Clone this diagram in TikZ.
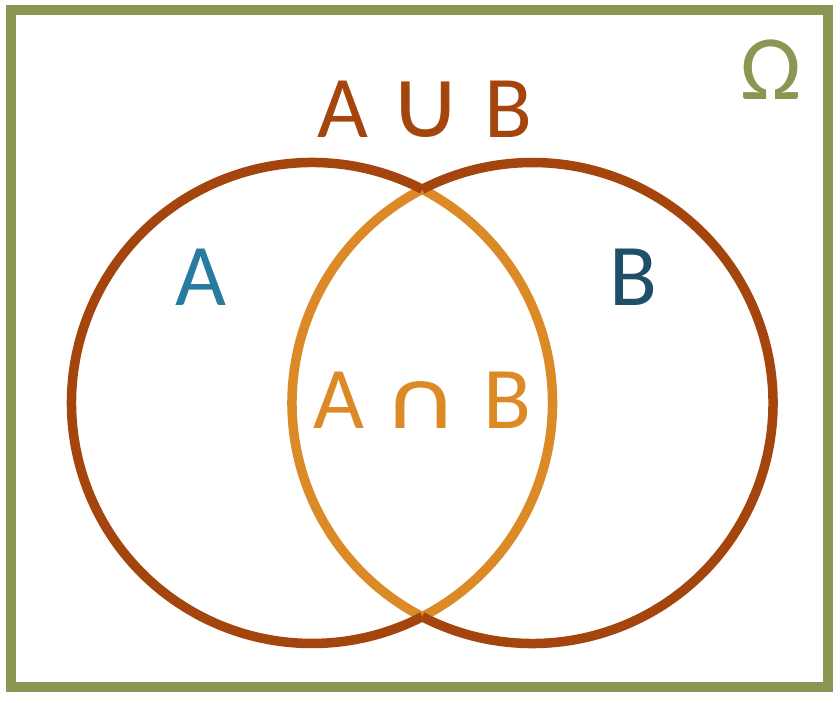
\documentclass[tikz,border=0pt]{standalone}
\usepackage{fontspec}
\usepackage{graphicx}
\setmainfont{Carlito}
\newfontfamily\symfont{DejaVu Sans}
\definecolor{rust}{HTML}{A4450E}
\definecolor{amber}{HTML}{DC8A28}
\definecolor{olive}{HTML}{8A9652}
\definecolor{setA}{HTML}{277AA0}
\definecolor{setB}{HTML}{1F4E69}
\tikzset{
  frame/.style={draw=olive, line width=10pt},
  outerarc/.style={draw=rust, line width=9.5pt},
  lensarc/.style={draw=amber, line width=9.5pt},
  lbl/.style={inner sep=0pt, anchor=base, font=\fontsize{88}{100}\selectfont},
  lblw/.style={inner sep=0pt, anchor=base west, font=\fontsize{88}{100}\selectfont}
}
\begin{document}
\begin{tikzpicture}[x=1pt,y=1pt]
\useasboundingbox (0,0) rectangle (840,702);
\fill[white] (0,0) rectangle (840,702);
\draw[frame] (10.5,15) rectangle (828,692);
\coordinate (ca) at (312,299);
\coordinate (cb) at (532.5,299);
% lens (intersection) arcs
\draw[lensarc] ([shift={(-62.7:240.5)}]ca) arc[start angle=-62.7, end angle=62.7, radius=240.5];
\draw[lensarc] ([shift={(117.3:240.5)}]cb) arc[start angle=117.3, end angle=242.7, radius=240.5];
% outer arcs
\draw[outerarc] ([shift={(62.7:240.5)}]ca) arc[start angle=62.7, end angle=297.3, radius=240.5];
\draw[outerarc] ([shift={(-117.3:240.5)}]cb) arc[start angle=-117.3, end angle=117.3, radius=240.5];
% labels
\node[lblw, text=rust] (union) at (316,564)
  {\makebox[54pt]{A}\makebox[112pt]{\scalebox{1.06}[1]{\fontsize{96}{100}\symfont ∪}}\makebox[53pt]{B}};
\node[lbl, text=setA] (la) at (201,396) {A};
\node[lbl, text=setB] (lb) at (633,396) {B};
\node[lblw, text=amber] (inter) at (315,273)
  {\makebox[48pt]{A}\makebox[115pt]{\scalebox{1.3}[1]{\fontsize{81}{90}\symfont ∩}}\makebox[59pt]{B}};
\node[lbl, text=olive, font=\fontsize{92}{100}\selectfont] (omega) at (771,602) {Ω};
\end{tikzpicture}
\end{document}
